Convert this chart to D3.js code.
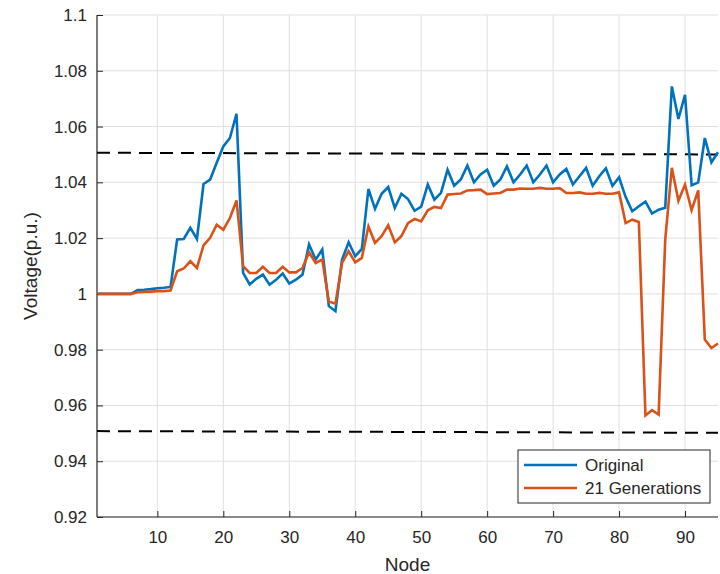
<!DOCTYPE html>
<html>
<head>
<meta charset="utf-8">
<script src="https://cdn.jsdelivr.net/npm/d3@7"></script>
<style>
  body { margin: 0; background: #fff; }
  svg text { font-family: "Liberation Sans", Arial, sans-serif; fill: #262626; }
</style>
</head>
<body>
<div id="chart"></div>
<script>
'use strict';

// node numbers 1..95
var nodes = d3.range(1, 96);

// voltage per node
var original = [
  1.0, 1.0, 1.0, 1.0, 1.0, 1.0, 1.0014, 1.0015, 1.0017, 1.002,
  1.0022, 1.0025, 1.0195, 1.0197, 1.0237, 1.0197, 1.0394, 1.041, 1.047, 1.0529,
  1.0559, 1.0646, 1.0075, 1.0034, 1.0054, 1.0069, 1.0033, 1.0051, 1.0073, 1.0037,
  1.0051, 1.0069, 1.0177, 1.0123, 1.0159, 0.9956, 0.9938, 1.0123, 1.0185, 1.0135,
  1.0161, 1.0376, 1.0305, 1.0359, 1.0383, 1.0308, 1.0359, 1.034, 1.0298, 1.0313,
  1.0392, 1.0338, 1.0362, 1.0445, 1.0388, 1.041, 1.046, 1.04, 1.0428, 1.0445,
  1.0388, 1.041, 1.0457, 1.04, 1.0428, 1.046, 1.04, 1.0428, 1.046, 1.04,
  1.0428, 1.0448, 1.0392, 1.0422, 1.0452, 1.0388, 1.0422, 1.045, 1.0387, 1.0418,
  1.0347, 1.0296, 1.0314, 1.0331, 1.0288, 1.0302, 1.0309, 1.0744, 1.0627, 1.0714,
  1.0389, 1.04, 1.0559, 1.0472, 1.0508
];

var generations21 = [
  1.0, 1.0, 1.0, 1.0, 1.0, 1.0, 1.0006, 1.0007, 1.0008, 1.001,
  1.001, 1.0012, 1.0081, 1.0091, 1.0117, 1.0093, 1.0174, 1.0201, 1.0248, 1.023,
  1.0272, 1.0335, 1.0099, 1.0075, 1.0075, 1.0097, 1.0075, 1.0075, 1.0097, 1.0077,
  1.0077, 1.0093, 1.0149, 1.0111, 1.0123, 0.9973, 0.9965, 1.0111, 1.0153, 1.0113,
  1.0129, 1.0242, 1.0183, 1.0207, 1.0246, 1.0185, 1.0207, 1.0254, 1.0269, 1.026,
  1.03, 1.0312, 1.0308, 1.0356, 1.0358, 1.036, 1.0371, 1.0372, 1.0374, 1.0358,
  1.036, 1.0362, 1.0374, 1.0374, 1.0378, 1.0377, 1.0377, 1.038, 1.0377, 1.0377,
  1.0379, 1.0362, 1.0362, 1.0364, 1.0359, 1.0359, 1.0362, 1.0359, 1.0359, 1.0364,
  1.0254, 1.0266, 1.0258, 0.9564, 0.9583, 0.9567, 1.0195, 1.0452, 1.0334, 1.0392,
  1.03, 1.0371, 0.9836, 0.9806, 0.9822
];

// voltage limits (start and end value of each dashed line)
var upperLimit = [1.0506, 1.05];
var lowerLimit = [0.9508, 0.9502];

var xTicks = [10, 20, 30, 40, 50, 60, 70, 80, 90];
var yTicks = [0.92, 0.94, 0.96, 0.98, 1, 1.02, 1.04, 1.06, 1.08, 1.1];

var seriesNames = ['Original', '21 Generations'];
var seriesColors = ['#0072BD', '#D95319'];

var width = 720, height = 574;
var margin = {top: 15, right: 2, bottom: 57, left: 97};
var innerW = width - margin.left - margin.right;
var innerH = height - margin.top - margin.bottom;

var svg = d3.select('#chart')
  .append('svg')
  .attr('width', width)
  .attr('height', height)
  .append('g')
  .attr('transform', 'translate(' + margin.left + ',' + margin.top + ')');

var xScale = d3.scaleLinear().domain([1, 95]).range([1, innerW]);
var yScale = d3.scaleLinear().domain([0.92, 1.1]).range([innerH, 0]);

// grid
svg.append('g')
  .attr('class', 'grid')
  .selectAll('line.gx')
  .data(xTicks)
  .enter()
  .append('line')
  .attr('x1', function(d) { return xScale(d); })
  .attr('x2', function(d) { return xScale(d); })
  .attr('y1', 0)
  .attr('y2', innerH)
  .attr('stroke', '#dfdfdf')
  .attr('stroke-width', 1);

svg.append('g')
  .attr('class', 'grid')
  .selectAll('line.gy')
  .data(yTicks)
  .enter()
  .append('line')
  .attr('x1', 0)
  .attr('x2', innerW)
  .attr('y1', function(d) { return yScale(d); })
  .attr('y2', function(d) { return yScale(d); })
  .attr('stroke', '#dfdfdf')
  .attr('stroke-width', 1);

// axes
var xAxis = d3.axisBottom(xScale)
  .tickValues(xTicks)
  .tickSizeInner(-6)
  .tickSizeOuter(0)
  .tickPadding(14);

var yAxis = d3.axisLeft(yScale)
  .tickValues(yTicks)
  .tickSizeInner(-6)
  .tickSizeOuter(0)
  .tickPadding(10)
  .tickFormat(function(d) { return d3.format('')(+d.toFixed(2)); });

var gx = svg.append('g')
  .attr('transform', 'translate(0,' + innerH + ')')
  .call(xAxis);

var gy = svg.append('g')
  .call(yAxis);

[gx, gy].forEach(function(g) {
  g.select('.domain').attr('stroke', '#262626').attr('stroke-width', 1.2);
  g.selectAll('.tick line').attr('stroke', '#262626').attr('stroke-width', 1);
  g.selectAll('.tick text').style('font-size', '17px').attr('fill', '#262626');
});
gx.select('.domain').attr('d', 'M0,0H' + innerW);
gy.select('.domain').attr('d', 'M0,0V' + innerH);

// limit lines
[upperLimit, lowerLimit].forEach(function(lim) {
  svg.append('line')
    .attr('x1', xScale(1) - 1)
    .attr('x2', xScale(95))
    .attr('y1', yScale(lim[0]))
    .attr('y2', yScale(lim[1]))
    .attr('stroke', '#000')
    .attr('stroke-width', 2)
    .attr('stroke-dasharray', '13,8');
});

// series
var line = d3.line()
  .x(function(d, i) { return xScale(nodes[i]); })
  .y(function(d) { return yScale(d); });

[original, generations21].forEach(function(s, i) {
  svg.append('path')
    .datum(s)
    .attr('fill', 'none')
    .attr('stroke', seriesColors[i])
    .attr('stroke-width', 2.6)
    .attr('stroke-linejoin', 'miter')
    .attr('d', line);
});

// axis labels
svg.append('text')
  .attr('x', innerW / 2)
  .attr('y', innerH + 54)
  .attr('text-anchor', 'middle')
  .style('font-size', '19px')
  .text('Node');

svg.append('text')
  .attr('transform', 'translate(' + (-60) + ',' + (innerH / 2) + ') rotate(-90)')
  .attr('text-anchor', 'middle')
  .style('font-size', '19px')
  .text('Voltage(p.u.)');

// legend
var legend = svg.append('g')
  .attr('transform', 'translate(' + (518 - margin.left) + ',' + (450 - margin.top) + ')');

legend.append('rect')
  .attr('width', 192)
  .attr('height', 53)
  .attr('fill', '#fff')
  .attr('stroke', '#262626')
  .attr('stroke-width', 1);

seriesNames.forEach(function(name, i) {
  var row = legend.append('g').attr('transform', 'translate(0,' + (15 + i * 23) + ')');
  row.append('line')
    .attr('x1', 6)
    .attr('x2', 59)
    .attr('stroke', seriesColors[i])
    .attr('stroke-width', 2.6);
  row.append('text')
    .attr('x', 67)
    .attr('dy', '0.35em')
    .style('font-size', '17px')
    .text(name);
});
</script>
</body>
</html>
